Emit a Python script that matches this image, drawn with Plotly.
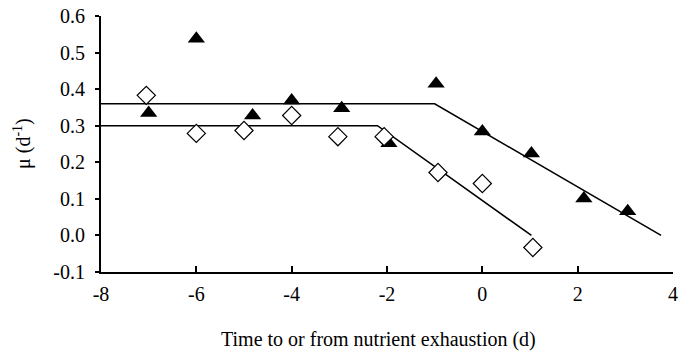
import plotly.graph_objects as go

# Filled triangles series
tri_x = [-7, -6, -4.82, -4, -2.95, -1.96, -0.97, 0, 1.03, 2.13, 3.05]
tri_y = [0.335, 0.538, 0.328, 0.369, 0.348, 0.252, 0.415, 0.284, 0.224, 0.101, 0.066]

# Open diamonds series
dia_x = [-7.05, -6, -5, -4, -3.03, -2.06, -0.93, 0, 1.06]
dia_y = [0.383, 0.279, 0.287, 0.328, 0.27, 0.27, 0.172, 0.142, -0.033]

# Fitted broken-stick lines
fit1_x = [-8, -1.0, 3.75]
fit1_y = [0.36, 0.36, 0.0]
fit2_x = [-8, -2.2, 1.03]
fit2_y = [0.30, 0.30, 0.0]

x_ticks = [-8, -6, -4, -2, 0, 2, 4]
x_tick_text = ["-8", "-6", "-4", "-2", "0", "2", "4"]
y_ticks = [-0.1, 0.0, 0.1, 0.2, 0.3, 0.4, 0.5, 0.6]
y_tick_text = ["-0.1", "0.0", "0.1", "0.2", "0.3", "0.4", "0.5", "0.6"]

x_title = "Time to or from nutrient exhaustion (d)"
y_title = "μ (d<sup>-1</sup>)"

fig = go.Figure()
fig.add_trace(go.Scatter(x=fit1_x, y=fit1_y, mode="lines",
                         line=dict(color="black", width=1.6), showlegend=False))
fig.add_trace(go.Scatter(x=fit2_x, y=fit2_y, mode="lines",
                         line=dict(color="black", width=1.6), showlegend=False))
fig.add_trace(go.Scatter(x=tri_x, y=tri_y, mode="markers",
                         marker=dict(symbol="triangle-up", size=15, color="black",
                                     line=dict(width=0)), showlegend=False))
fig.add_trace(go.Scatter(x=dia_x, y=dia_y, mode="markers",
                         marker=dict(symbol="diamond", size=14, color="white",
                                     line=dict(width=1.2, color="black")), showlegend=False))

W, H = 679, 352
L, T, R, B = 101, 16, 6, 80
plot_w = W - L - R
plot_h = H - T - B

font = "Liberation Serif"
tfont = dict(family=font, size=20, color="black")
fig.update_layout(
    width=W, height=H,
    margin=dict(l=L, r=R, t=T, b=B, autoexpand=False),
    plot_bgcolor="white", paper_bgcolor="white",
    font=dict(family=font, size=20, color="black"),
    xaxis=dict(range=[-8, 4], tickvals=x_ticks, ticktext=x_tick_text,
               ticks="inside", ticklen=6, tickwidth=1.5,
               tickcolor="black", showline=True, linecolor="black", linewidth=2,
               showgrid=False, zeroline=False, ticklabelstandoff=3,
               ticklabeloverflow="allow", tickfont=tfont, automargin=False),
    yaxis=dict(range=[-0.1, 0.6], tickvals=y_ticks, ticktext=y_tick_text,
               ticks="outside", ticklen=4, tickwidth=1.5, tickcolor="black", showline=True,
               linecolor="black", linewidth=2, showgrid=False, zeroline=False,
               ticklabelstandoff=6, ticklabeloverflow="allow",
               tickfont=tfont, automargin=False),
    annotations=[
        dict(text=x_title, xref="paper", yref="paper", x=(378 - L) / plot_w,
             y=-(339 - (H - B)) / plot_h,
             xanchor="center", yanchor="middle", showarrow=False, font=tfont),
        dict(text=y_title, xref="paper", yref="paper", x=-(L - 22) / plot_w, y=0.5,
             xanchor="center", yanchor="middle", showarrow=False, textangle=-90,
             font=tfont),
    ],
)
# remove the browser's default 8px body margin so the figure fills the window
fig.write_html("out.html", config={"displayModeBar": False},
               post_script="document.body.style.margin='0px';")
